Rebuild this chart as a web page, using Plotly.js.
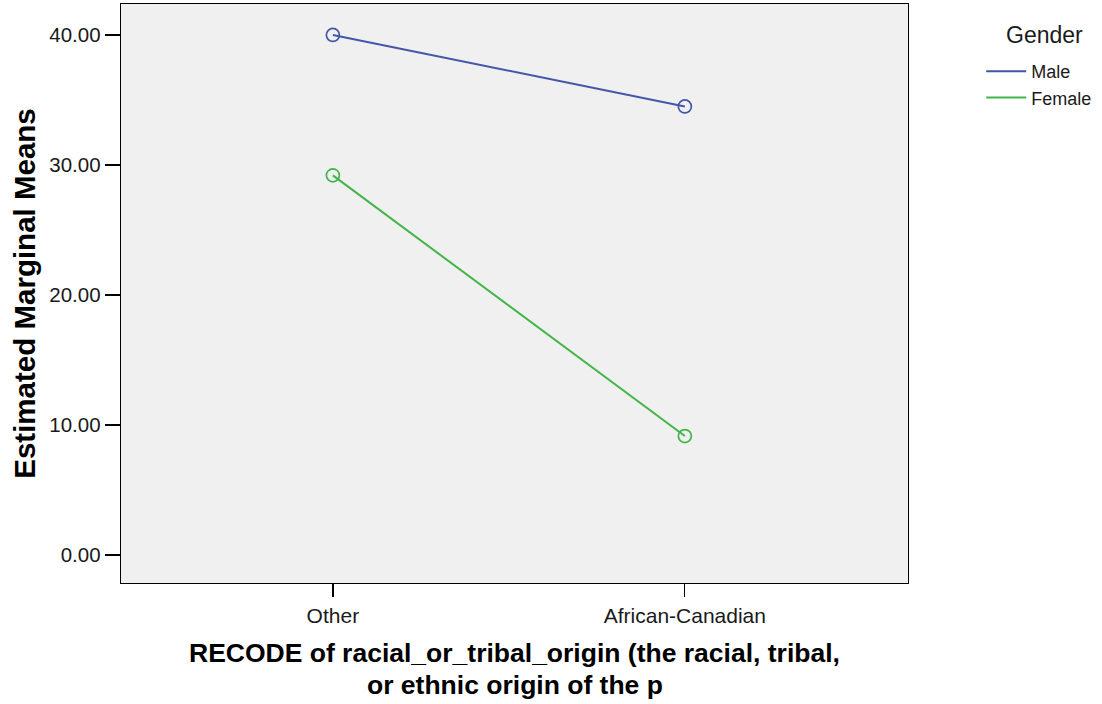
<!DOCTYPE html>
<html>
<head>
<meta charset="utf-8">
<script src="https://cdn.plot.ly/plotly-3.0.1.min.js"></script>
<style>html,body{margin:0;padding:0;background:#fff;}#chart{width:1102px;height:704px;}</style>
</head>
<body>
<div id="chart"></div>
<script>
var categories = ["Other", "African-Canadian"];
var seriesNames = ["Male", "Female"];
var maleMeans = [40.0, 34.5];
var femaleMeans = [29.2, 9.15];
var yTickVals = [0, 10, 20, 30, 40];
var yTickText = ["0.00", "10.00", "20.00", "30.00", "40.00"];
var xTitleLines = ["RECODE of racial_or_tribal_origin (the racial, tribal,", "or ethnic origin of the p"];
var yTitle = "Estimated Marginal Means";
var legendTitle = "Gender";

var colors = ["#4456a8", "#41b549"];
var values = [maleMeans, femaleMeans];

var FONT = "Liberation Sans, Arial, sans-serif";
var traces = [];
seriesNames.forEach(function (name, i) {
  traces.push({
    type: "scatter",
    mode: "lines",
    name: name,
    x: categories,
    y: values[i],
    line: {color: colors[i], width: 2},
    showlegend: true
  });
});
seriesNames.forEach(function (name, i) {
  traces.push({
    type: "scatter",
    mode: "markers",
    name: name,
    x: categories,
    y: values[i],
    marker: {symbol: "circle-open", size: 13, color: colors[i], line: {width: 1.7, color: colors[i]}},
    showlegend: false
  });
});

var plotTop = 4, plotBottom = 583;
function py(pixel) { return (plotBottom - pixel) / (plotBottom - plotTop); }

var layout = {
  width: 1102,
  height: 704,
  margin: {l: 121, r: 194, t: plotTop, b: 704 - plotBottom},
  paper_bgcolor: "#ffffff",
  plot_bgcolor: "#f0f0f0",
  font: {family: FONT, color: "#000"},
  showlegend: true,
  xaxis: {
    type: "category",
    range: [-0.602, 1.634],
    showgrid: false,
    zeroline: false,
    showline: true,
    linecolor: "#000",
    linewidth: 1.3,
    mirror: true,
    ticks: "outside",
    ticklen: 13,
    tickwidth: 1.3,
    tickcolor: "#000",
    tickfont: {size: 21, color: "#1a1a1a", family: FONT}
  },
  yaxis: {
    range: [-2.15, 42.38],
    tickvals: yTickVals,
    ticktext: yTickText,
    showgrid: false,
    zeroline: false,
    showline: true,
    linecolor: "#000",
    linewidth: 1.3,
    mirror: true,
    ticks: "outside",
    ticklen: 15,
    tickwidth: 1.3,
    tickcolor: "#000",
    tickfont: {size: 20.5, color: "#1a1a1a", family: FONT},
    title: {
      text: yTitle,
      font: {size: 29.5, color: "#000", family: FONT, weight: "bold"},
      standoff: 5
    }
  },
  legend: {
    x: 1.093,
    xanchor: "left",
    y: py(53),
    yanchor: "top",
    bgcolor: "rgba(0,0,0,0)",
    font: {size: 18, color: "#1a1a1a", family: FONT},
    tracegroupgap: 0,
    itemwidth: 40
  },
  annotations: [
    {xref: "paper", yref: "paper", x: 1.173, y: py(35), xanchor: "center", yanchor: "middle",
     text: legendTitle, showarrow: false, font: {size: 23, color: "#1a1a1a", family: FONT}},
    {xref: "paper", yref: "paper", x: 0.5, y: py(653), xanchor: "center", yanchor: "middle",
     text: "<b>" + xTitleLines[0] + "</b>", showarrow: false, font: {size: 26.5, color: "#000", family: FONT}},
    {xref: "paper", yref: "paper", x: 0.5, y: py(685), xanchor: "center", yanchor: "middle",
     text: "<b>" + xTitleLines[1] + "</b>", showarrow: false, font: {size: 26.5, color: "#000", family: FONT}}
  ]
};

Plotly.newPlot("chart", traces, layout, {displayModeBar: false, staticPlot: true});
</script>
</body>
</html>
